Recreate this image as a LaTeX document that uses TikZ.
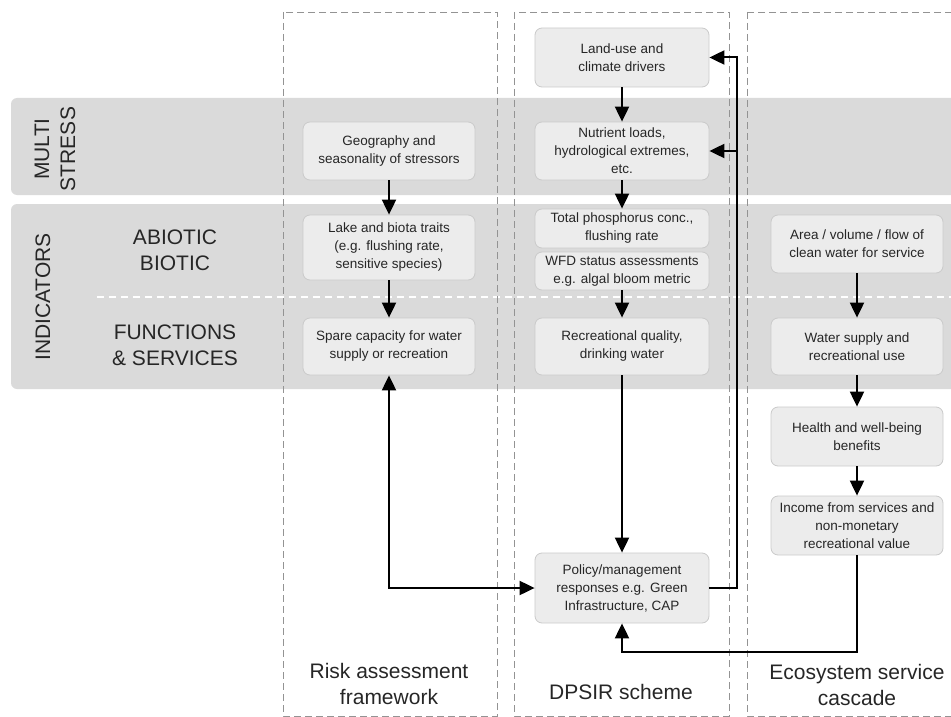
\documentclass[tikz,border=0pt]{standalone}
\usepackage{fontspec}
\setmainfont{Liberation Sans}
\usetikzlibrary{arrows.meta}
\definecolor{bandgray}{HTML}{DADADA}
\definecolor{boxfill}{HTML}{ECECEC}
\definecolor{boxedge}{HTML}{CACACA}
\definecolor{inkgray}{HTML}{262626}

\begin{document}
\begin{tikzpicture}[x=1pt,y=-1pt,
	band/.style={fill=bandgray,rounded corners=6pt},
	frame lines/.style={gray!85,dashed,dash pattern=on 7pt off 4pt,line width=0.9pt},
	stage/.style={rounded corners=7pt,fill=boxfill,draw=boxedge,line width=0.8pt,text=inkgray,align=center,minimum width=172pt,inner sep=2pt,font=\fontsize{13.5}{18}\selectfont},
	big/.style={text=inkgray,align=center,font=\fontsize{21}{26}\selectfont},
	flow/.style={-{Triangle[length=15pt,width=14pt]},line width=2pt}]
	\useasboundingbox (0,0) rectangle (951,717);
	\clip (0,0) rectangle (951,717);
	% bands and columns
	\fill[band] (11,98) rectangle (970,195);
	\fill[band] (11,204) rectangle (970,389);
	\draw[white,dashed,dash pattern=on 7pt off 5pt,line width=1.5pt] (97,297) -- (951,297);
	\foreach \l/\r in {283/497,514/729,747/965} \draw[frame lines] (\l,12) rectangle (\r,716);
	% row labels
	\node[big,rotate=90] (multi) at (55,149) {MULTI\\STRESS};
	\node[big,rotate=90] (indic) at (43,297) {INDICATORS};
	\node[big] (abio) at (175,250) {ABIOTIC\\BIOTIC};
	\node[big] (func) at (175,345) {FUNCTIONS\\\& SERVICES};
	% risk assessment framework
	\node[stage,minimum height=58pt] (geo) at (389,151) {Geography and\\seasonality of stressors};
	\node[stage,minimum height=65pt] (lake) at (389,247.5) {Lake and biota traits\\(e.g. flushing rate,\\sensitive species)};
	\node[stage,minimum height=57pt] (spare) at (389,346.5) {Spare capacity for water\\supply or recreation};
	% DPSIR scheme
	\node[stage,minimum width=174pt,minimum height=59pt] (land) at (622,57.5) {Land-use and\\climate drivers};
	\node[stage,minimum width=174pt,minimum height=58pt] (nutr) at (622,151) {Nutrient loads,\\hydrological extremes,\\etc.};
	\node[stage,minimum width=174pt,minimum height=39pt] (phos) at (622,228.5) {Total phosphorus conc.,\\flushing rate};
	\node[stage,minimum width=174pt,minimum height=38pt] (wfd) at (622,271) {WFD status assessments\\e.g. algal bloom metric};
	\node[stage,minimum width=174pt,minimum height=57pt] (recr) at (622,346.5) {Recreational quality,\\drinking water};
	\node[stage,minimum width=174pt,minimum height=70pt] (policy) at (622,588) {Policy/management\\responses e.g. Green\\Infrastructure, CAP};
	% ecosystem service cascade
	\node[stage,minimum height=58pt] (area) at (857,244) {Area / volume / flow of\\clean water for service};
	\node[stage,minimum height=57pt] (water) at (857,346.5) {Water supply and\\recreational use};
	\node[stage,minimum height=59pt] (health) at (857,436.5) {Health and well-being\\benefits};
	\node[stage,minimum height=59pt] (income) at (857,525.5) {Income from services and\\non-monetary\\recreational value};
	% column titles
	\node[big] (risk) at (389,684) {Risk assessment\\framework};
	\node[big] (dpsir) at (621,692) {DPSIR scheme};
	\node[big] (eco) at (857,685) {Ecosystem service\\cascade};
	% arrows
	\draw[flow] (geo) -- (lake);
	\draw[flow] (lake) -- (spare);
	\draw[flow] (land) -- (nutr);
	\draw[flow] (nutr) -- (phos);
	\draw[flow] (wfd) -- (recr);
	\draw[flow] (recr) -- (policy);
	\draw[flow] (area) -- (water);
	\draw[flow] (water) -- (health);
	\draw[flow] (health) -- (income);
	\draw[flow] (policy.east) -- ++(28,0) coordinate (fb) |- (land.east);
	\draw[flow] (fb |- nutr.east) -- (nutr.east);
	\draw[flow,{Triangle[length=15pt,width=14pt]}-{Triangle[length=15pt,width=14pt]}] (spare.south) |- (policy.west);
	\draw[flow] (income.south) -- ++(0,97) -| (policy.south);
\end{tikzpicture}
\end{document}
